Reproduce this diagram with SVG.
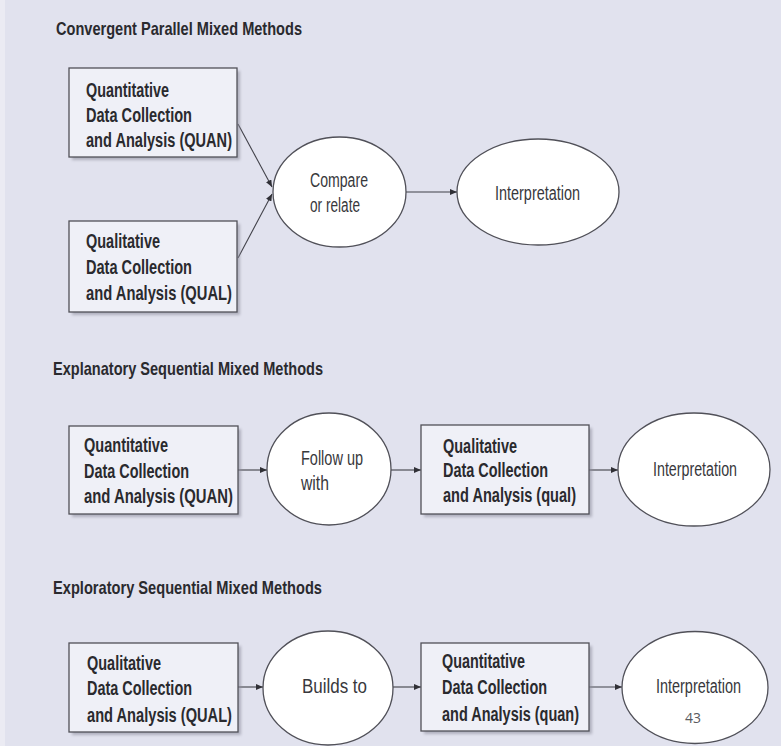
<svg xmlns="http://www.w3.org/2000/svg" width="781" height="746" viewBox="0 0 781 746">
<style>
.bg{fill:#e1e2ee}
.box{fill:#eff0f7;stroke:#505058;stroke-width:1.3}
.shadow{fill:#8e8e9c;opacity:0.6}
.ell{fill:#ffffff;stroke:#505058;stroke-width:1.3}
.t{font-family:"Liberation Sans",Arial,sans-serif;font-weight:bold;font-size:20px;fill:#2a2a2e}
.r{font-family:"Liberation Sans",Arial,sans-serif;font-size:20px;fill:#38383c}
.h{font-family:"Liberation Sans",Arial,sans-serif;font-weight:bold;font-size:19px;fill:#2a2a2e}
.pg{font-family:"Open Sans","Liberation Sans",sans-serif;font-size:14px;fill:#5a5a60}
.c{stroke:#404048;stroke-width:1.1;fill:none;marker-end:url(#ah)}
</style>
<defs>
<marker id="ah" markerWidth="7" markerHeight="6" refX="7" refY="3" orient="auto" markerUnits="userSpaceOnUse">
<path d="M0,0 L7,3 L0,6 Z" fill="#303036"/>
</marker>
<filter id="blur" x="-10%" y="-10%" width="120%" height="120%">
<feGaussianBlur stdDeviation="1.5"/>
</filter>
</defs>
<rect class="bg" x="0" y="0" width="781" height="746"/>
<rect x="0" y="0" width="5" height="746" fill="#ebebf3"/>

<g id="titles">
<text class="h" x="56" y="35" textLength="246" lengthAdjust="spacingAndGlyphs">Convergent Parallel Mixed Methods</text>
<text class="h" x="53" y="375" textLength="270" lengthAdjust="spacingAndGlyphs">Explanatory Sequential Mixed Methods</text>
<text class="h" x="53" y="594" textLength="269" lengthAdjust="spacingAndGlyphs">Exploratory Sequential Mixed Methods</text>
</g>

<g id="connectors">
<line class="c" x1="238" y1="124" x2="272" y2="187"/>
<line class="c" x1="238" y1="258" x2="272" y2="194"/>
<line class="c" x1="406" y1="192" x2="457" y2="192"/>
<line class="c" x1="238" y1="470" x2="267" y2="470"/>
<line class="c" x1="391" y1="470" x2="421" y2="470"/>
<line class="c" x1="589" y1="470" x2="618" y2="470"/>
<line class="c" x1="238" y1="687" x2="263" y2="687"/>
<line class="c" x1="393" y1="687" x2="421" y2="687"/>
<line class="c" x1="589" y1="687" x2="622" y2="687"/>
</g>

<g id="quan1">
<rect class="shadow" x="72" y="71" width="168" height="89" filter="url(#blur)"/>
<rect class="box" x="69" y="68" width="168" height="89"/>
<text class="t" x="86" y="97" textLength="83" lengthAdjust="spacingAndGlyphs">Quantitative</text>
<text class="t" x="86" y="122" textLength="106" lengthAdjust="spacingAndGlyphs">Data Collection</text>
<text class="t" x="86" y="147" textLength="146" lengthAdjust="spacingAndGlyphs">and Analysis (QUAN)</text>
</g>

<g id="qual1">
<rect class="shadow" x="72" y="224" width="168" height="91" filter="url(#blur)"/>
<rect class="box" x="69" y="221" width="168" height="91"/>
<text class="t" x="86" y="248" textLength="74" lengthAdjust="spacingAndGlyphs">Qualitative</text>
<text class="t" x="86" y="274" textLength="106" lengthAdjust="spacingAndGlyphs">Data Collection</text>
<text class="t" x="86" y="300" textLength="146" lengthAdjust="spacingAndGlyphs">and Analysis (QUAL)</text>
</g>

<g id="compare">
<ellipse class="ell" cx="339.5" cy="192" rx="66.5" ry="55"/>
<text class="r" x="310" y="187" textLength="58" lengthAdjust="spacingAndGlyphs">Compare</text>
<text class="r" x="310" y="212" textLength="50" lengthAdjust="spacingAndGlyphs">or relate</text>
</g>

<g id="interp1">
<ellipse class="ell" cx="538" cy="192" rx="81" ry="53"/>
<text class="r" x="495" y="200" textLength="85" lengthAdjust="spacingAndGlyphs">Interpretation</text>
</g>

<g id="quan2">
<rect class="shadow" x="72" y="429" width="169" height="88" filter="url(#blur)"/>
<rect class="box" x="69" y="426" width="169" height="88"/>
<text class="t" x="84" y="452" textLength="84" lengthAdjust="spacingAndGlyphs">Quantitative</text>
<text class="t" x="84" y="478" textLength="105" lengthAdjust="spacingAndGlyphs">Data Collection</text>
<text class="t" x="84" y="503" textLength="149" lengthAdjust="spacingAndGlyphs">and Analysis  (QUAN)</text>
</g>

<g id="followup">
<ellipse class="ell" cx="329" cy="469" rx="62" ry="56"/>
<text class="r" x="301" y="465" textLength="62" lengthAdjust="spacingAndGlyphs">Follow up</text>
<text class="r" x="301" y="490" textLength="28" lengthAdjust="spacingAndGlyphs">with</text>
</g>

<g id="qual2">
<rect class="shadow" x="424" y="428" width="168" height="89" filter="url(#blur)"/>
<rect class="box" x="421" y="425" width="168" height="89"/>
<text class="t" x="443" y="453" textLength="74" lengthAdjust="spacingAndGlyphs">Qualitative</text>
<text class="t" x="443" y="477" textLength="105" lengthAdjust="spacingAndGlyphs">Data Collection</text>
<text class="t" x="443" y="502" textLength="133" lengthAdjust="spacingAndGlyphs">and Analysis (qual)</text>
</g>

<g id="interp2">
<ellipse class="ell" cx="694" cy="469.5" rx="76" ry="56.5"/>
<text class="r" x="653" y="476" textLength="84" lengthAdjust="spacingAndGlyphs">Interpretation</text>
</g>

<g id="qual3">
<rect class="shadow" x="72" y="646" width="169" height="89" filter="url(#blur)"/>
<rect class="box" x="69" y="643" width="169" height="89"/>
<text class="t" x="87" y="670" textLength="74" lengthAdjust="spacingAndGlyphs">Qualitative</text>
<text class="t" x="87" y="695" textLength="105" lengthAdjust="spacingAndGlyphs">Data Collection</text>
<text class="t" x="87" y="722" textLength="145" lengthAdjust="spacingAndGlyphs">and Analysis (QUAL)</text>
</g>

<g id="builds">
<ellipse class="ell" cx="328" cy="688" rx="65" ry="57"/>
<text class="r" x="302" y="693" textLength="65" lengthAdjust="spacingAndGlyphs">Builds to</text>
</g>

<g id="quan3">
<rect class="shadow" x="424" y="646" width="168" height="88" filter="url(#blur)"/>
<rect class="box" x="421" y="643" width="168" height="88"/>
<text class="t" x="442" y="668" textLength="83" lengthAdjust="spacingAndGlyphs">Quantitative</text>
<text class="t" x="442" y="694" textLength="105" lengthAdjust="spacingAndGlyphs">Data Collection</text>
<text class="t" x="442" y="721" textLength="137" lengthAdjust="spacingAndGlyphs">and Analysis (quan)</text>
</g>

<g id="interp3">
<ellipse class="ell" cx="695" cy="687.5" rx="73" ry="56"/>
<text class="r" x="656" y="693" textLength="85" lengthAdjust="spacingAndGlyphs">Interpretation</text>
</g>

<g id="page">
<text class="pg" x="685" y="723">43</text>
</g>
</svg>
